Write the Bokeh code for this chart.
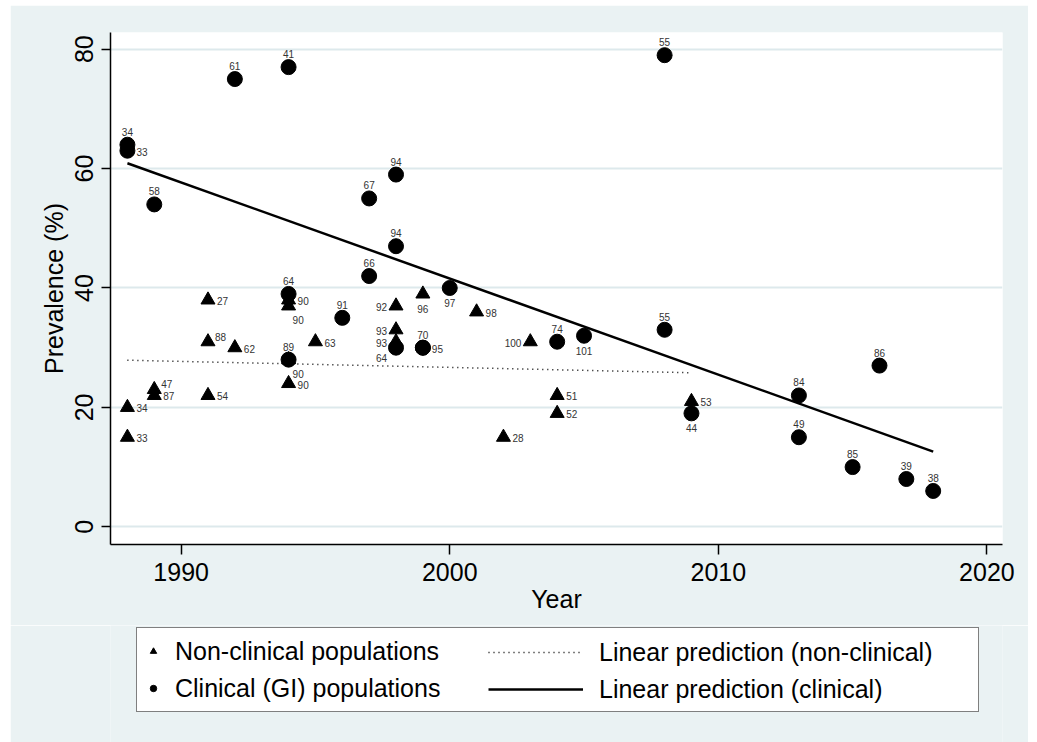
from bokeh.plotting import figure
from bokeh.layouts import column
from bokeh.models import ColumnDataSource, Range1d, FixedTicker, Legend, LegendItem
from bokeh.core.properties import value
from bokeh.embed import file_html
from bokeh.resources import INLINE

# ---------------- data ----------------
# Clinical (GI) populations: year, prevalence (%), reference number, label position
clin_year = [1988, 1988, 1989, 1992, 1994, 1994, 1994, 1996, 1997, 1997, 1998, 1998, 1998,
             1999, 1999, 2000, 2004, 2005, 2008, 2008, 2009, 2013, 2013, 2015, 2016, 2017, 2018]
clin_prev = [64, 63, 54, 75, 77, 39, 28, 35, 55, 42, 59, 47, 30,
             30, 30, 40, 31, 32, 79, 33, 19, 22, 15, 10, 27, 8, 6]
clin_ref = ["34", "33", "58", "61", "41", "64", "89", "91", "67", "66", "94", "94", "64",
            "70", "95", "97", "74", "101", "55", "55", "44", "84", "49", "85", "86", "39", "38"]
clin_pos = ["n", "e", "n", "n", "n", "n", "n", "n", "n", "n", "n", "n", "sw",
            "n", "e", "s", "n", "s", "n", "n", "s", "n", "n", "n", "n", "n", "n"]

# Non-clinical populations
nc_year = [1988, 1988, 1989, 1989, 1991, 1991, 1991, 1992, 1994, 1994, 1994, 1994,
           1995, 1998, 1998, 1998, 1999, 2001, 2002, 2003, 2004, 2004, 2009]
nc_prev = [20, 15, 23, 22, 38, 31, 22, 30, 38, 37, 28, 24,
           31, 37, 33, 31, 39, 36, 15, 31, 22, 19, 21]
nc_ref = ["34", "33", "47", "87", "27", "88", "54", "62", "90", "90", "90", "90",
          "63", "92", "93", "93", "96", "98", "28", "100", "51", "52", "53"]
nc_pos = ["e", "e", "ne", "e", "e", "ne", "e", "e", "e", "se", "se", "e",
          "e", "w", "w", "w", "s", "e", "e", "w", "e", "e", "e"]

# Linear predictions (end points)
fit_clin_x = [1988, 2018]
fit_clin_y = [60.9, 12.6]
fit_nc_x = [1988, 2009]
fit_nc_y = [27.9, 25.8]

x_ticks = [1990, 2000, 2010, 2020]
y_ticks = [0, 20, 40, 60, 80]

legend_labels = ["Non-clinical populations", "Clinical (GI) populations",
                 "Linear prediction (non-clinical)", "Linear prediction (clinical)"]

# ---------------- styling ----------------
BG = "#EAF2F3"
GRID = "#DDE9EC"
FONT = "Liberation Sans"

p = figure(width=1018, height=620, output_backend="svg", toolbar_location=None,
           x_range=Range1d(1987.37, 2020.58), y_range=Range1d(-2.97, 82.8),
           min_border_left=100, min_border_right=26, min_border_top=27, min_border_bottom=81,
           margin=(5, 0, 0, 10))
p.background_fill_color = "white"
p.border_fill_color = BG
p.outline_line_color = None

p.xgrid.visible = False
p.ygrid.ticker = FixedTicker(ticks=y_ticks)
p.ygrid.grid_line_color = GRID
p.ygrid.grid_line_width = 2

for ax in (p.xaxis[0], p.yaxis[0]):
    ax.axis_line_color = "black"
    ax.axis_line_width = 1.5
    ax.major_tick_line_color = "black"
    ax.major_tick_line_width = 1.5
    ax.major_tick_in = 0
    ax.major_tick_out = 9
    ax.minor_tick_line_color = None
    ax.major_label_text_font = FONT
    ax.major_label_text_font_size = "25px"
    ax.major_label_text_color = "black"
    ax.axis_label_text_font = FONT
    ax.axis_label_text_font_size = "25px"
    ax.axis_label_text_font_style = "normal"
    ax.axis_label_text_color = "black"

p.xaxis.ticker = FixedTicker(ticks=x_ticks)
p.xaxis.axis_label = "Year"
p.xaxis.major_label_standoff = 8
p.xaxis.axis_label_standoff = 1
p.xaxis.major_tick_out = 10

p.yaxis.ticker = FixedTicker(ticks=y_ticks)
p.yaxis.axis_label = "Prevalence (%)"
p.yaxis.major_label_orientation = "vertical"
p.yaxis.major_label_standoff = 8
p.yaxis.axis_label_standoff = 5

TRI = dict(marker="triangle", fill_color="black", line_color="black")
CIR = dict(marker="circle", fill_color="black", line_color="black")
DOT = dict(line_color="black", line_width=1.5, line_dash="1 4")
SOL = dict(line_color="black", line_width=2.5)

p.scatter(nc_year, nc_prev, size=14, **TRI)
p.scatter(clin_year, clin_prev, size=15, **CIR)
p.line(fit_nc_x, fit_nc_y, **DOT)
p.line(fit_clin_x, fit_clin_y, **SOL)

# marker labels, grouped by clock position
offsets = {
    "n": (0, -13, "center"),
    "s": (0, 15, "center"),
    "e": (9, 1, "left"),
    "w": (-9, 1, "right"),
    "se": (4, 14, "left"),
    "sw": (-9, 10, "right"),
    "ne": (7, -5, "left"),
}
for xs, ys, labs, poss in ((nc_year, nc_prev, nc_ref, nc_pos), (clin_year, clin_prev, clin_ref, clin_pos)):
    for code, (dx, dy, align) in offsets.items():
        idx = [i for i, c in enumerate(poss) if c == code]
        if not idx:
            continue
        src = ColumnDataSource(dict(x=[xs[i] for i in idx], y=[ys[i] for i in idx],
                                    t=[labs[i] for i in idx]))
        p.text("x", "y", text="t", source=src, x_offset=dx, y_offset=dy,
               text_align=align, text_baseline="middle", text_font=value(FONT),
               text_font_size="10px", text_color="#333333")

# ---------------- legend strip (separate figure so nothing is clipped) ----------------
# Its frame is aligned with the main frame by the column layout; the data renderers
# below fall outside its (0..1) ranges, so only their legend samples are seen.
pl = figure(width=1018, height=117, output_backend="svg", toolbar_location=None,
            x_range=Range1d(0, 1), y_range=Range1d(0, 1),
            min_border=0, margin=(0, 0, 0, 10))
pl.axis.visible = False
pl.grid.visible = False
pl.background_fill_color = BG
pl.border_fill_color = BG
pl.outline_line_color = None

l_tri = pl.scatter(nc_year, nc_prev, size=14, **TRI)
l_cir = pl.scatter(clin_year, clin_prev, size=15, **CIR)
l_dot = pl.line(fit_nc_x, fit_nc_y, **DOT)
l_sol = pl.line(fit_clin_x, fit_clin_y, **SOL)

common = dict(glyph_height=30, label_height=30, spacing=7, padding=8, margin=0,
              label_text_font=FONT, label_text_font_size="25px", label_text_color="black")
leg_a = Legend(items=[LegendItem(label=legend_labels[0], renderers=[l_tri], index=0),
                      LegendItem(label=legend_labels[1], renderers=[l_cir], index=0)],
               location=(26, 30), glyph_width=16, label_standoff=14, label_width=795,
               border_line_color="black", border_line_width=1.2,
               background_fill_color="white", background_fill_alpha=1, **common)
leg_b = Legend(items=[LegendItem(label=legend_labels[2], renderers=[l_dot]),
                      LegendItem(label=legend_labels[3], renderers=[l_sol])],
               location=(378, 38), glyph_width=95, label_standoff=16,
               border_line_color=None, background_fill_alpha=0, **common)
pl.add_layout(leg_a)
pl.add_layout(leg_b)

layout = column(p, pl, spacing=0)
open("out.html", "w").write(file_html(layout, INLINE))
